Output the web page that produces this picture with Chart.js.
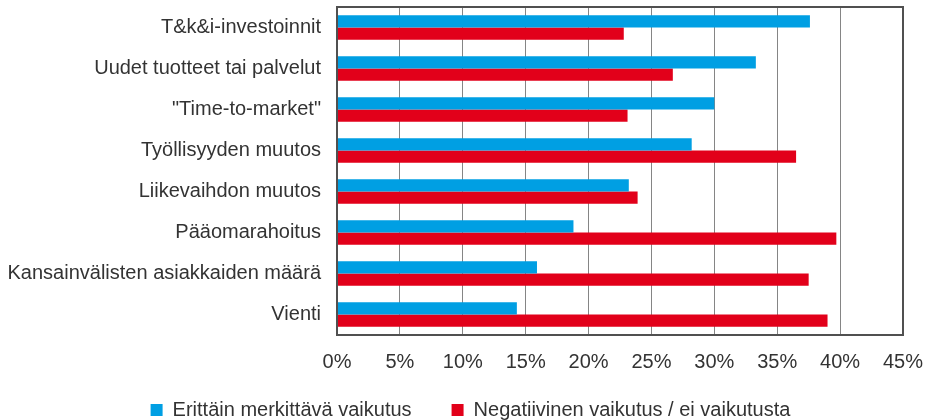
<!DOCTYPE html>
<html>
<head>
<meta charset="utf-8">
<script src="https://cdn.jsdelivr.net/npm/chart.js@4"></script>
<style>
  html, body { margin: 0; padding: 0; background: #fff; }
  #wrap { width: 928px; height: 420px; }
</style>
</head>
<body>
<div id="wrap"><canvas id="chart"></canvas></div>
<script>
// values in percent
var categories = [
  "T&k&i-investoinnit",
  "Uudet tuotteet tai palvelut",
  "\"Time-to-market\"",
  "Työllisyyden muutos",
  "Liikevaihdon muutos",
  "Pääomarahoitus",
  "Kansainvälisten asiakkaiden määrä",
  "Vienti"
];
var significant = [37.6, 33.3, 30.0, 28.2, 23.2, 18.8, 15.9, 14.3];
var negative = [22.8, 26.7, 23.1, 36.5, 23.9, 39.7, 37.5, 39.0];
var xTicks = [0, 5, 10, 15, 20, 25, 30, 35, 40, 45];

var FONT = "'Liberation Sans', Arial, sans-serif";
var TEXT = '#333';

// frame around the plot area
var frame = {
  id: 'frame',
  afterDraw: function (chart) {
    var a = chart.chartArea, c = chart.ctx;
    c.save();
    c.strokeStyle = '#505050';
    c.lineWidth = 2;
    c.strokeRect(a.left, a.top, a.right - a.left, a.bottom - a.top);
    c.restore();
  }
};

// legend padding is wide for the gap between items; pull the box up a bit
var legendShift = {
  id: 'legendShift',
  afterLayout: function (chart) {
    var lg = chart.legend;
    if (!lg) return;
    lg.top -= 29; lg.bottom -= 29;
    lg.left += 19; lg.right += 19;
  }
};

new Chart(document.getElementById('chart'), {
  type: 'bar',
  data: {
    labels: categories,
    datasets: [
      {
        label: 'Erittäin merkittävä vaikutus',
        data: significant,
        backgroundColor: '#009FE3'
      },
      {
        label: 'Negatiivinen vaikutus / ei vaikutusta',
        data: negative,
        backgroundColor: '#E2001A'
      }
    ]
  },
  options: {
    indexAxis: 'y',
    responsive: true,
    maintainAspectRatio: false,
    animation: false,
    layout: { padding: { top: 7, right: 25, left: 0, bottom: -39 } },
    datasets: {
      bar: { categoryPercentage: 0.6, barPercentage: 1.0 }
    },
    scales: {
      x: {
        min: 0,
        max: 45,
        afterBuildTicks: function (scale) {
          scale.ticks = xTicks.map(function (v) { return { value: v }; });
        },
        afterFit: function (scale) {
          scale.paddingLeft = 0;
          scale.paddingRight = 0;
        },
        ticks: {
          padding: 15,
          color: TEXT,
          font: { family: FONT, size: 20 },
          callback: function (v) { return v + '%'; }
        },
        grid: { color: '#858585', lineWidth: 1, drawTicks: false },
        border: { display: false }
      },
      y: {
        afterFit: function (scale) {
          scale.width = 337;
          scale.paddingTop = 0;
          scale.paddingBottom = 0;
        },
        ticks: {
          padding: 16,
          color: TEXT,
          font: { family: FONT, size: 20 }
        },
        grid: { display: false, drawTicks: false },
        border: { display: false }
      }
    },
    plugins: {
      legend: {
        position: 'bottom',
        labels: {
          boxWidth: 12,
          boxHeight: 12,
          padding: 40,
          color: TEXT,
          font: { family: FONT, size: 20 }
        }
      },
      tooltip: { enabled: false }
    }
  },
  plugins: [frame, legendShift]
});
</script>
</body>
</html>
